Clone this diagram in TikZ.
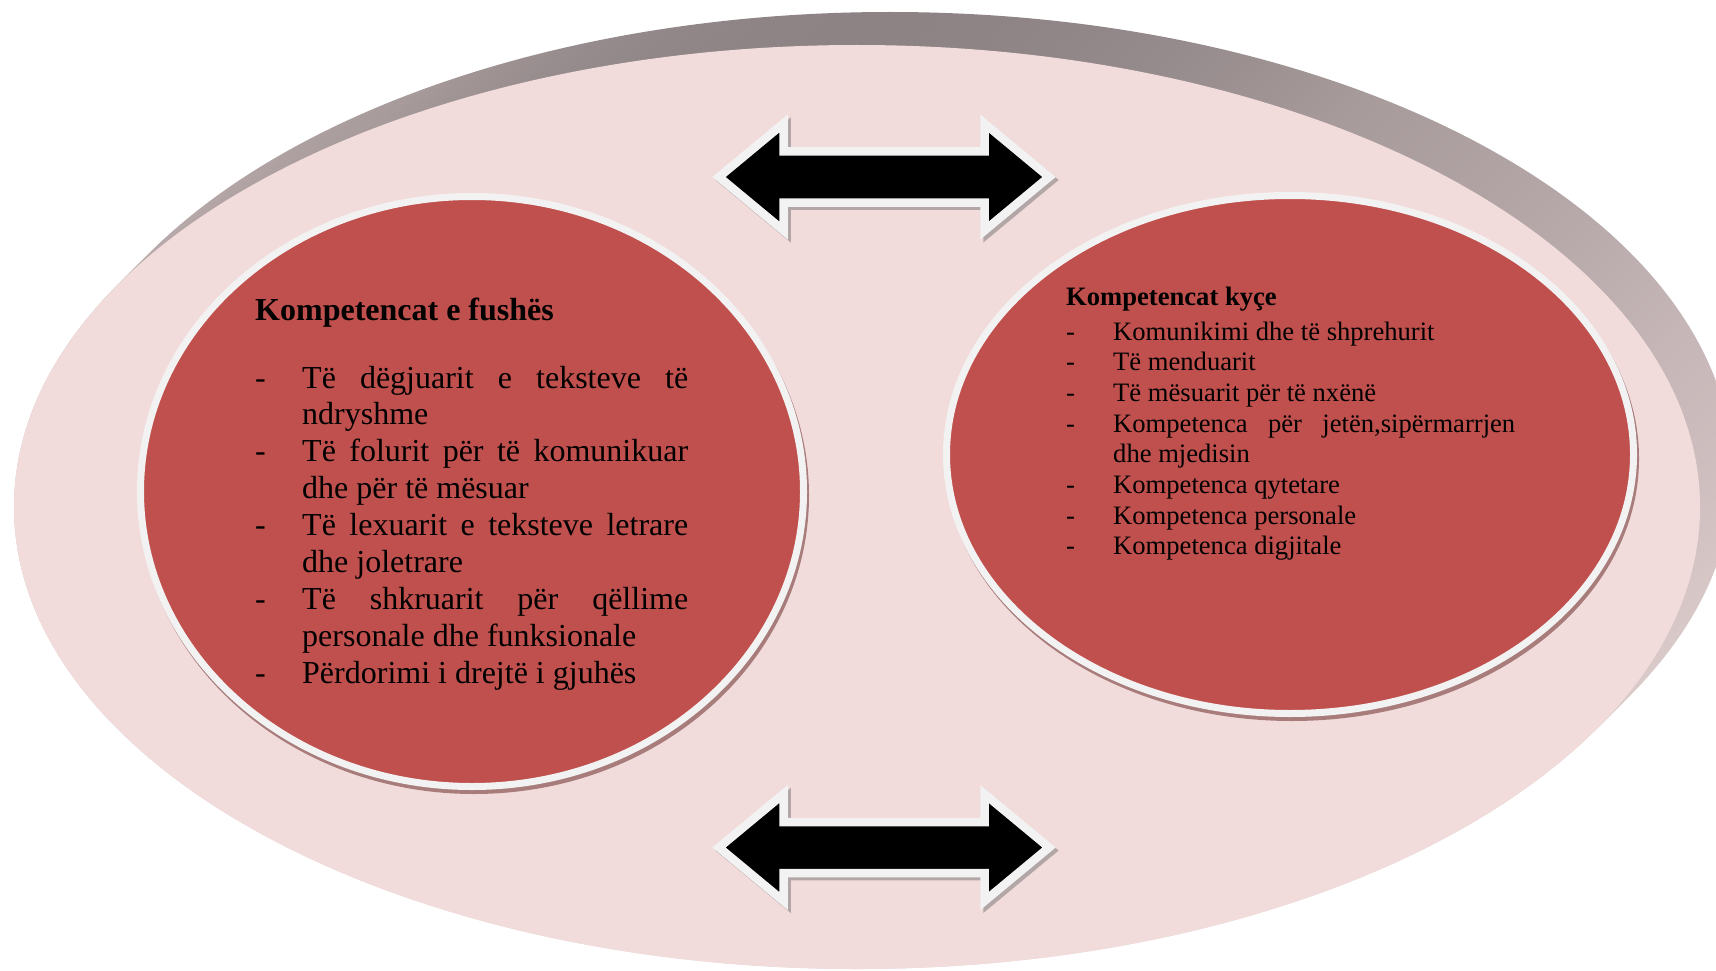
\documentclass[tikz,border=0pt]{standalone}
\usepackage{fontspec}
\setmainfont{Liberation Serif}
\usetikzlibrary{shapes.geometric}
\definecolor{pinkbg}{HTML}{F2DCDB}
\definecolor{redfill}{HTML}{C0504D}
\definecolor{rimline}{HTML}{F2F2F2}
\definecolor{shadowred}{HTML}{A97C7C}
\definecolor{rimtop}{HTML}{8D8384}
\definecolor{rimhi}{HTML}{A89B9C}
\definecolor{rimmid}{HTML}{C6B6B7}
\definecolor{rimlow}{HTML}{D6C6C6}
\definecolor{rimbot}{HTML}{E2D2D2}
\definecolor{arrowshadow}{HTML}{B3A6A6}
\pgfdeclareverticalshading{rimshade}{100bp}{color(0bp)=(rimbot); color(25bp)=(rimbot); color(45bp)=(rimlow); color(58bp)=(rimmid); color(70.5bp)=(rimhi); color(75bp)=(rimtop); color(100bp)=(rimtop)}
\newcommand\dblarrowpath{(-165,0) -- (-100.5,-53.5) -- (-100.5,-25.5) -- (100.5,-25.5) -- (100.5,-53.5) -- (165,0) -- (100.5,53.5) -- (100.5,25.5) -- (-100.5,25.5) -- (-100.5,53.5) -- cycle}
\tikzset{
  arrowbody/.style={fill=black, draw=rimline, line width=8.5pt, line join=miter, miter limit=10},
  arrowshade/.style={fill=arrowshadow, draw=arrowshadow, line width=8.5pt, line join=miter, miter limit=10},
  bigtxt/.style={anchor=base west, inner sep=0pt, font=\fontsize{32}{37}\selectfont},
  smalltxt/.style={anchor=base west, inner sep=0pt, font=\fontsize{26.6}{30.7}\selectfont},
  redell/.style={fill=redfill, draw=rimline, line width=7pt},
}
\begin{document}
\begin{tikzpicture}[x=1pt,y=-1pt]
\useasboundingbox (0,0) rectangle (1716,971);
\clip (0,0) rectangle (1716,971);
% extruded grey rim of the big disc
\foreach \i in {11,10,...,0}{
  \shade[shading=rimshade] (857+3*\i,507-3*\i) ellipse [x radius=843pt, y radius=462pt];
}
% big pink disc
\fill[pinkbg] (857,507) ellipse [x radius=843pt, y radius=462pt];
% left red ellipse
\fill[shadowred] (474,495.5) ellipse [x radius=335pt, y radius=298.5pt];
\draw[redell] (472,491.5) ellipse [x radius=331.5pt, y radius=295pt];
% right red ellipse
\fill[shadowred] (1292,458.5) ellipse [x radius=347pt, y radius=262.5pt];
\draw[redell] (1290,454.5) ellipse [x radius=343.5pt, y radius=259pt];
% arrows
\draw[arrowshade, shift={(887,180)}] \dblarrowpath;
\draw[arrowbody, shift={(884,177)}] \dblarrowpath;
\draw[arrowshade, shift={(887,850.5)}] \dblarrowpath;
\draw[arrowbody, shift={(884,847.5)}] \dblarrowpath;
% left text
\node[bigtxt] (lt) at (255,320) {\textbf{Kompetencat e fushës}};
\node[bigtxt] (ld1) at (255,388) {-};
\node[bigtxt] (l1) at (302,388) {\makebox[386pt][s]{Të dëgjuarit e teksteve të}};
\node[bigtxt] (l2) at (302,424.95) {ndryshme};
\node[bigtxt] (ld2) at (255,461.9) {-};
\node[bigtxt] (l3) at (302,461.9) {\makebox[386pt][s]{Të folurit për të komunikuar}};
\node[bigtxt] (l4) at (302,498.85) {dhe për të mësuar};
\node[bigtxt] (ld3) at (255,535.8) {-};
\node[bigtxt] (l5) at (302,535.8) {\makebox[386pt][s]{Të lexuarit e teksteve letrare}};
\node[bigtxt] (l6) at (302,572.75) {dhe joletrare};
\node[bigtxt] (ld4) at (255,609.7) {-};
\node[bigtxt] (l7) at (302,609.7) {\makebox[386pt][s]{Të shkruarit për qëllime}};
\node[bigtxt] (l8) at (302,646.65) {personale dhe funksionale};
\node[bigtxt] (ld5) at (255,683.6) {-};
\node[bigtxt] (l9) at (302,683.6) {Përdorimi i drejtë i gjuhës};
% right text
\node[smalltxt] (rt) at (1066,305) {\textbf{Kompetencat kyçe}};
\node[smalltxt] (rd1) at (1066,340) {-};
\node[smalltxt] (r1) at (1113,340) {Komunikimi dhe të shprehurit};
\node[smalltxt] (rd2) at (1066,370.7) {-};
\node[smalltxt] (r2) at (1113,370.7) {Të menduarit};
\node[smalltxt] (rd3) at (1066,401.4) {-};
\node[smalltxt] (r3) at (1113,401.4) {Të mësuarit për të nxënë};
\node[smalltxt] (rd4) at (1066,432.1) {-};
\node[smalltxt] (r4) at (1113,432.1) {\makebox[402pt][s]{Kompetenca për jetën,sipërmarrjen}};
\node[smalltxt] (r5) at (1113,462.8) {dhe mjedisin};
\node[smalltxt] (rd6) at (1066,493.5) {-};
\node[smalltxt] (r6) at (1113,493.5) {Kompetenca qytetare};
\node[smalltxt] (rd7) at (1066,524.2) {-};
\node[smalltxt] (r7) at (1113,524.2) {Kompetenca personale};
\node[smalltxt] (rd8) at (1066,554.9) {-};
\node[smalltxt] (r8) at (1113,554.9) {Kompetenca digjitale};
\end{tikzpicture}
\end{document}
